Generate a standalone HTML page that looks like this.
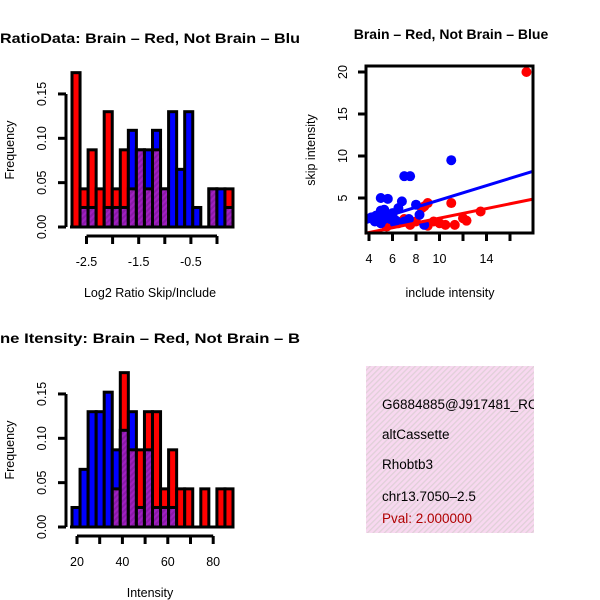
<!DOCTYPE html>
<html><head><meta charset="utf-8"><style>
html,body{margin:0;padding:0;background:#fff;}
svg{display:block;font-family:"Liberation Sans",Arial,sans-serif;}
</style></head><body>
<svg id="c" width="600" height="600" xmlns="http://www.w3.org/2000/svg">
<defs>
<pattern id="hatch" width="4" height="4" patternUnits="userSpaceOnUse" patternTransform="rotate(45)">
<rect width="4" height="4" fill="#a020c0"/><rect width="2" height="4" fill="#8a1aa8"/></pattern>
<pattern id="pink" width="4" height="4" patternUnits="userSpaceOnUse" patternTransform="rotate(45)">
<rect width="4" height="4" fill="#f8d8f0"/><rect width="1.3" height="4" fill="#e0d0d8"/></pattern>
</defs>
<g id="g1"></g>
<g id="g2"></g>
<g id="g3"></g>
<g>
<rect x="366" y="366" width="168" height="167" fill="url(#pink)"/>
<text x="382" y="409" font-size="13.5">G6884885@J917481_RC</text>
<text x="382" y="439" font-size="13.5">altCassette</text>
<text x="382" y="469" font-size="13.5">Rhobtb3</text>
<text x="382" y="501" font-size="13.5">chr13.7050–2.5</text>
<text x="382" y="523" font-size="13.5" fill="#b00000">Pval: 2.000000</text>
<rect x="534" y="360" width="66" height="180" fill="#fff"/>
</g>
</svg>
<script>
// Histogram 1 data: Log2 ratio
const h1Red  = [0.174,0.043,0.087,0.043,0.130,0.043,0.087,0.043,0.087,0.043,0.087,0.043,0,0,0,0,0,0.043,0,0.043];
const h1Blue = [0,0.022,0.022,0,0.022,0.022,0.022,0.109,0.087,0.087,0.109,0.043,0.130,0.065,0.130,0.022,0,0.043,0.043,0.022];
const h1Ticks = [-2.5,-2.0,-1.5,-1.0,-0.5,0.0];
const h1TickLabels = ["-2.5","","-1.5","","-0.5",""];
// Histogram 2 data: Intensity
const h2Red  = [0,0,0,0,0,0.043,0.174,0.087,0.087,0.130,0.130,0.043,0.087,0.043,0.043,0,0.043,0,0.043,0.043];
const h2Blue = [0.022,0.065,0.130,0.130,0.152,0.087,0.109,0.130,0.022,0.087,0.022,0.022,0.022,0,0,0,0,0,0,0];
const h2Ticks = [20,30,40,50,60,70,80];
const h2TickLabels = ["20","","40","","60","","80"];
const yTicks = [0,0.05,0.10,0.15];
const yTickLabels = ["0.00","0.05","0.10","0.15"];
// Scatter data
const blueX = [4.2,4.5,5.0,5.6,5.0,5.5,5.8,6.0,6.2,6.5,6.8,7.0,7.5,5.0,4.8,6.0,7.0,8.0,8.3,8.7,11.0,7.4,5.3,4.6,5.2,6.3];
const blueY = [2.7,2.2,5.0,4.9,3.5,3.0,2.5,3.2,2.0,3.8,4.6,7.6,7.6,2.0,2.6,2.8,2.2,4.2,3.0,1.8,9.5,2.5,3.6,2.9,2.4,2.3];
const redX = [17.4,11.0,9.0,8.5,6.0,7.0,7.5,9.0,10.0,10.5,11.3,12.0,13.5,12.3,5.5,6.5,8.0,9.5,8.7];
const redY = [20.0,4.4,4.4,3.8,3.0,2.5,1.8,1.7,2.0,1.8,1.8,2.6,3.4,2.3,1.6,2.0,2.2,2.2,4.0];
const sxTicks = [4,6,8,10,12,14,16];
const sxTickLabels = ["4","6","8","10","","14",""];
const syTicks = [5,10,15,20];
const blueFit = [0.46,0.43]; // intercept, slope
const redFit = [-0.25,0.285];

const NS="http://www.w3.org/2000/svg";
function mk(p,tag,a,txt){const e=document.createElementNS(NS,tag);for(const k in a)e.setAttribute(k,a[k]);if(txt!==undefined)e.textContent=txt;p.appendChild(e);return e;}

function hist(g,red,blue,y0,ax,ticks,labels,title,xlabel){
  const yS=v=>y0-v*887;
  const n=red.length, x0=72, w=(233-72)/n;
  for(let i=0;i<n;i++){
    const r=red[i],b=blue[i],mx=Math.max(r,b),mn=Math.min(r,b);
    const xb=x0+i*w;
    if(mx>0){
      const bar=mk(g,'rect',{x:xb,y:yS(mx),width:w,height:yS(0)-yS(mx),fill:r>=b?'#ff0000':'#0000ff',stroke:'#000','stroke-width':3});
      
      
    }
    if(mn>0){
      const ov=mk(g,'rect',{x:xb,y:yS(mn),width:w,height:yS(0)-yS(mn),fill:'url(#hatch)',stroke:'#000','stroke-width':3});
      
      
    }
  }
  mk(g,'line',{x1:70,x2:234,y1:y0,y2:y0,stroke:'#000','stroke-width':3});
  mk(g,'line',{x1:66,x2:66,y1:yS(0.15),y2:yS(0),stroke:'#000','stroke-width':3});
  yTicks.forEach((t,i)=>{
    mk(g,'line',{x1:58,x2:66,y1:yS(t),y2:yS(t),stroke:'#000','stroke-width':3});
    const tl=mk(g,'text',{x:46,y:yS(t),'font-size':12.5,'text-anchor':'middle',transform:`rotate(-90 46 ${yS(t)})`},yTickLabels[i]);
    
    
  });
  const xa=y0+9;
  mk(g,'line',{x1:ax(ticks[0]),x2:ax(ticks[ticks.length-1]),y1:xa,y2:xa,stroke:'#000','stroke-width':3});
  ticks.forEach((t,i)=>{
    mk(g,'line',{x1:ax(t),x2:ax(t),y1:xa,y2:xa+8,stroke:'#000','stroke-width':3});
    if(labels[i]){const tl=mk(g,'text',{x:ax(t),y:xa+30,'font-size':12.5,'text-anchor':'middle'},labels[i]);
    
    }
  });
  const yl=mk(g,'text',{x:14,y:y0-77,'font-size':12.5,'text-anchor':'middle',transform:`rotate(-90 14 ${y0-77})`},'Frequency');
  
  
  const xl=mk(g,'text',{x:150,y:xa+61,'font-size':12.5,'text-anchor':'middle'},xlabel);
  
  
  const tt=mk(g,'text',{x:0,y:y0-184,'font-size':14,'font-weight':'bold',textLength:300,lengthAdjust:'spacingAndGlyphs'},title);
  
  
}
hist(document.getElementById('g1'),h1Red,h1Blue,227,v=>217+v*52.2,h1Ticks,h1TickLabels,'RatioData: Brain – Red, Not Brain – Blu','Log2 Ratio Skip/Include');
hist(document.getElementById('g2'),h2Red,h2Blue,527,v=>77+(v-20)*2.27,h2Ticks,h2TickLabels,'ne Itensity: Brain – Red, Not Brain – B','Intensity');

// scatter
const g3=document.getElementById('g3');
const sx=v=>369+(v-4)*11.75, sy=v=>240-v*8.4;
function fitLine(f,col,name){
  const xa=(365-369)/11.75+4, xb=(533-369)/11.75+4;
  const l=mk(g3,'line',{x1:sx(xa),y1:sy(f[0]+f[1]*xa),x2:sx(xb),y2:sy(f[0]+f[1]*xb),stroke:col,'stroke-width':3});
  
  
}
redX.forEach((x,i)=>{const c=mk(g3,'circle',{cx:sx(x),cy:sy(redY[i]),r:5,fill:'#ff0000'});
  
  });
blueX.forEach((x,i)=>{const c=mk(g3,'circle',{cx:sx(x),cy:sy(blueY[i]),r:5,fill:'#0000ff'});
  
  });
fitLine(blueFit,'#0000ff','blue-fit-line');
fitLine(redFit,'#ff0000','red-fit-line');
mk(g3,'rect',{x:366,y:66,width:167,height:167,fill:'none',stroke:'#000','stroke-width':3});
syTicks.forEach(t=>{
  mk(g3,'line',{x1:358,x2:366,y1:sy(t),y2:sy(t),stroke:'#000','stroke-width':3});
  const tl=mk(g3,'text',{x:347,y:sy(t),'font-size':12.5,'text-anchor':'middle',transform:`rotate(-90 347 ${sy(t)})`},String(t));
  
  
});
sxTicks.forEach((t,i)=>{
  mk(g3,'line',{x1:sx(t),x2:sx(t),y1:233,y2:241,stroke:'#000','stroke-width':3});
  if(sxTickLabels[i]){const tl=mk(g3,'text',{x:sx(t),y:263,'font-size':12.5,'text-anchor':'middle'},sxTickLabels[i]);
  
  }
});
const st=mk(g3,'text',{x:451,y:39,'font-size':14,'font-weight':'bold','text-anchor':'middle'},'Brain – Red, Not Brain – Blue');


const sxl=mk(g3,'text',{x:450,y:297,'font-size':12.5,'text-anchor':'middle'},'include intensity');


const syl=mk(g3,'text',{x:315,y:150,'font-size':12.5,'text-anchor':'middle',transform:'rotate(-90 315 150)'},'skip intensity');


</script>
</body></html>
